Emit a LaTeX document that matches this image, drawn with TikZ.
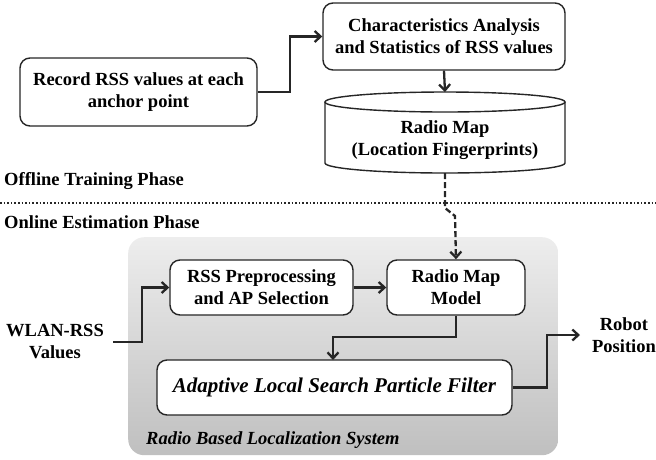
\documentclass[tikz,border=0pt]{standalone}
\usepackage{fontspec}
\setmainfont{Liberation Serif}
\usetikzlibrary{arrows.meta}
\begin{document}
\begin{tikzpicture}[x=1pt,y=-1pt,
  box/.style={draw=black!85, line width=1.4pt, rounded corners=10pt, fill=white, align=center,
    font=\fontsize{18.5}{22}\selectfont\bfseries, inner sep=0pt},
  lbl/.style={align=center, font=\fontsize{18.5}{22}\selectfont\bfseries, inner sep=0pt},
  conn/.style={draw=black!85, line width=2.3pt, -{Straight Barb[length=6pt,width=11pt,line width=2.3pt]}},
  dconn/.style={conn, dash pattern=on 6pt off 3pt}
]
\useasboundingbox (0,0) rectangle (656,459);
% panel
\node[draw=none, rounded corners=16pt, top color=black!7, bottom color=black!25,
  minimum width=430pt, minimum height=218pt, inner sep=0pt, anchor=north west] (panel) at (128,237) {};
% offline
\node[box, minimum width=237pt, minimum height=68pt] (rec) at (138.5,92) {Record RSS values at each\\anchor point};
\node[box, minimum width=242pt, minimum height=67pt] (chr) at (444,36.5) {Characteristics Analysis\\and Statistics of RSS values};
% cylinder
\draw[draw=black!85, line width=1.4pt, fill=white] (325,102) -- (325,163) arc[start angle=180, end angle=0, x radius=120, y radius=10] -- (565,102);
\draw[draw=black!85, line width=1.4pt, fill=white] (445,102) ellipse[x radius=120, y radius=10];
\node[lbl] (map) at (445,140) {Radio Map\\(Location Fingerprints)};
\coordinate (maptop) at (445,92);
\coordinate (mapbot) at (445,173);
% phases
\node[lbl, anchor=west] (off) at (4,181) {Offline Training Phase};
\draw[line width=1.6pt, dotted, black!85] (0,203) coordinate (d1) -- (656,203) coordinate (d2);
\node[lbl, anchor=west] (on) at (4,222) {Online Estimation Phase};
% online
\node[box, minimum width=183pt, minimum height=55pt] (pre) at (261.5,287.5) {RSS Preprocessing\\and AP Selection};
\node[box, minimum width=138pt, minimum height=55pt] (mod) at (456,287.5) {Radio Map\\Model};
\node[box, minimum width=355pt, minimum height=55pt, font=\fontsize{21}{22}\selectfont\bfseries\itshape] (alp) at (334.5,387.5) {Adaptive Local Search Particle Filter};
\node[lbl] (wlan) at (55,342) {WLAN-RSS\\Values};
\node[lbl] (rob) at (624,335) {Robot\\Position};
\node[lbl, anchor=west, font=\fontsize{18.5}{22}\selectfont\bfseries\itshape] (sys) at (146,440) {Radio Based Localization System};
% connectors
\coordinate (wl) at (113,342);
\draw[conn] (rec.east) -- (290,92) |- (chr.west);
\draw[conn] (chr.south) -- (maptop);
\draw[dconn] (mapbot) -- (445,208) -- (455,216) -- (mod.north);
\draw[conn] (wl) -- (142,342) |- (pre.west);
\draw[conn] (pre.east) -- (mod.west);
\draw[conn] (mod.south) -- (456,337) -| (333,360);
\coordinate (rp) at (580,335);
\draw[conn] (alp.east) -- (547,387.5) |- (rp);
\end{tikzpicture}
\end{document}
